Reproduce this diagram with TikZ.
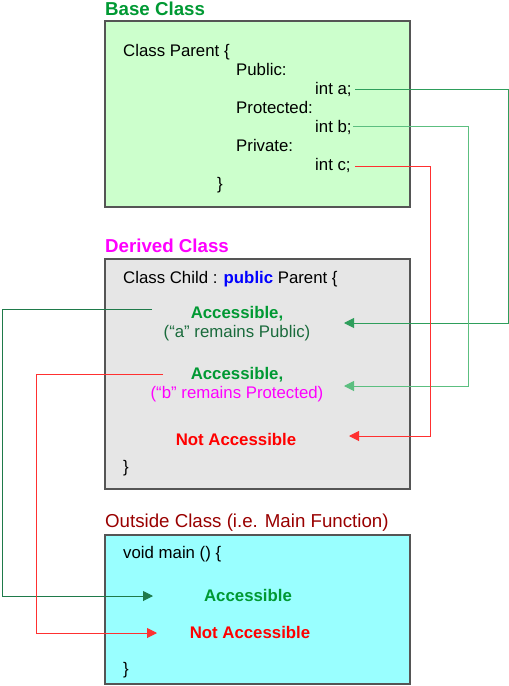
\documentclass[tikz,border=0pt]{standalone}
\usepackage{fontspec}
\setmainfont{Liberation Sans}
\usetikzlibrary{arrows.meta}
\definecolor{basefill}{HTML}{CCFFCC}
\definecolor{derfill}{HTML}{E6E6E6}
\definecolor{outfill}{HTML}{99FFFF}
\definecolor{boxedge}{HTML}{555555}
\definecolor{accgreen}{HTML}{009933}
\definecolor{darkgreen}{HTML}{1A6B3C}
\definecolor{magent}{HTML}{FF00FF}
\definecolor{darkred}{HTML}{990000}
\definecolor{linea}{HTML}{2E9E5B}
\definecolor{lineb}{HTML}{5CBF80}
\definecolor{linered}{HTML}{FF3030}
\definecolor{lineleft}{HTML}{1F7A4A}
\begin{document}
\begin{tikzpicture}[x=1pt,y=-1pt,
  classbox/.style={draw=boxedge,line width=1.6pt},
  txt/.style={inner sep=0pt,anchor=base west,font=\fontsize{16.8}{19}\selectfont},
  ctxt/.style={inner sep=0pt,anchor=base,font=\fontsize{16.8}{19}\selectfont},
  title/.style={inner sep=0pt,anchor=base west,font=\fontsize{18.7}{21}\selectfont},
  conn/.style={line width=1pt},
  tip/.style={-{Triangle[length=10pt,width=10pt]}}]
\useasboundingbox (0,0) rectangle (509,686);
% boxes
\draw[classbox,fill=basefill] (105,21) rectangle (410,207);
\draw[classbox,fill=derfill] (105,259) rectangle (410,489);
\draw[classbox,fill=outfill] (105,535) rectangle (410,684);
% titles
\node[title,font=\fontsize{18.7}{21}\selectfont\bfseries,text=accgreen] (tb) at (105,15) {Base Class};
\node[title,font=\fontsize{18.7}{21}\selectfont\bfseries,text=magent] (td) at (105,252) {Derived Class};
\node[title,text=darkred] (to) at (105,527) {Outside Class (i.e. Main Function)};
% base class text
\node[txt] (cp) at (123,56) {Class Parent \{};
\node[txt] (pub) at (236,75) {Public:};
\node[txt] (ia) at (315,94) {int a;};
\node[txt] (pro) at (236,113) {Protected:};
\node[txt] (ib) at (315,132) {int b;};
\node[txt] (pri) at (236,151) {Private:};
\node[txt] (ic) at (315,170) {int c;};
\node[txt] (cb1) at (217,189) {\}};
% derived class text
\node[txt] (cc) at (123,283) {Class Child : \textcolor{blue}{\bfseries public} Parent \{};
\node[ctxt,font=\fontsize{16.8}{19}\selectfont\bfseries,text=accgreen] (acc1) at (237,318) {Accessible,};
\node[ctxt,text=darkgreen] (rem1) at (237,337) {(“a” remains Public)};
\node[ctxt,font=\fontsize{16.8}{19}\selectfont\bfseries,text=accgreen] (acc2) at (237,379) {Accessible,};
\node[ctxt,text=magent] (rem2) at (237,398) {(“b” remains Protected)};
\node[ctxt,font=\fontsize{16.8}{19}\selectfont\bfseries,text=red] (na1) at (236,445) {Not Accessible};
\node[txt] (cb2) at (123,472) {\}};
% outside text
\node[txt] (vm) at (123,558) {void main () \{};
\node[ctxt,font=\fontsize{16.8}{19}\selectfont\bfseries,text=accgreen] (acc3) at (248,601) {Accessible};
\node[ctxt,font=\fontsize{16.8}{19}\selectfont\bfseries,text=red] (na2) at (250,638) {Not Accessible};
\node[txt] (cb3) at (123,674) {\}};
% connector coordinates
\coordinate (sa) at (355,89.3);
\coordinate (ka) at (508,89.3);
\coordinate (ea) at (344,323);
\coordinate (sb) at (353,126.3);
\coordinate (kb) at (468,126.3);
\coordinate (eb) at (344,386);
\coordinate (sc) at (355,166);
\coordinate (kc) at (430,166);
\coordinate (ec) at (349,436);
\coordinate (sl1) at (152,309);
\coordinate (kl1) at (2,309);
\coordinate (el1) at (153,596);
\coordinate (sl2) at (163,374);
\coordinate (kl2) at (36,374);
\coordinate (el2) at (157,633);
% connectors
\draw[conn,linea,tip] (sa) -- (ka) |- (ea);
\draw[conn,lineb,tip] (sb) -- (kb) |- (eb);
\draw[conn,linered,tip] (sc) -- (kc) |- (ec);
\draw[conn,lineleft,tip] (sl1) -- (kl1) |- (el1);
\draw[conn,linered,tip] (sl2) -- (kl2) |- (el2);
\end{tikzpicture}
\end{document}
